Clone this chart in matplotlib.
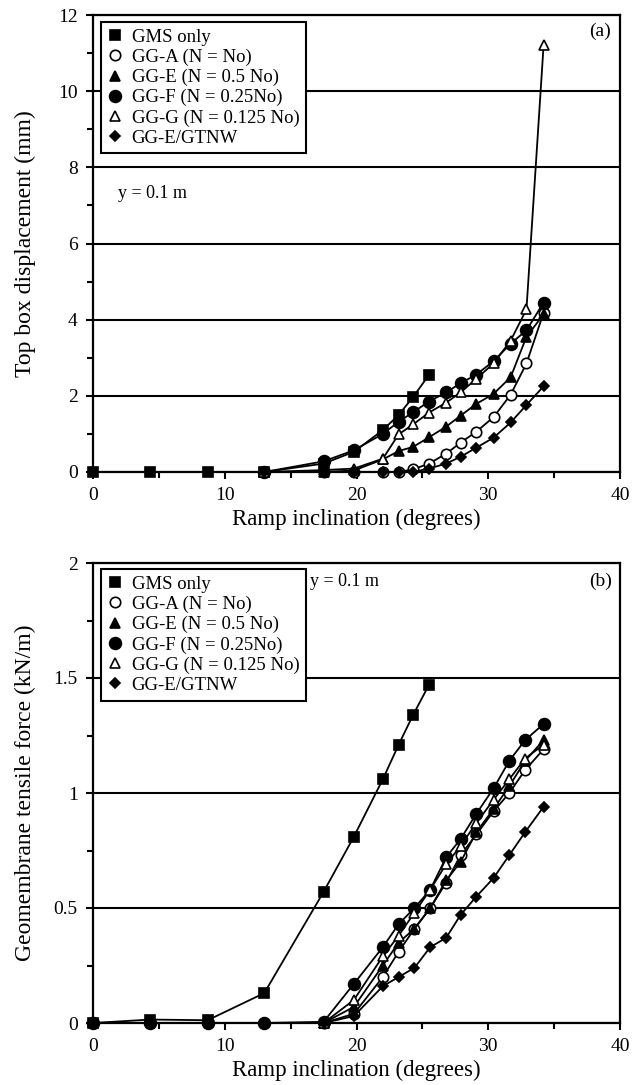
import matplotlib.pyplot as plt
from matplotlib.lines import Line2D
import numpy as np

plt.rcParams['font.family'] = ['Liberation Serif', 'DejaVu Serif']

# Panel (a): top box displacement (mm)
x_gms = [0, 4.35, 8.7, 13.0, 17.5, 19.8, 22.0, 23.2, 24.3, 25.5]
a_gms = [0, 0, 0, 0, 0.22, 0.53, 1.10, 1.50, 1.97, 2.55]

x_gg = [13.0, 17.5, 19.8, 22.0, 23.2, 24.3, 25.5, 26.8, 27.9, 29.1, 30.4, 31.7, 32.9, 34.2]
a_gga = [0, 0, 0, 0, 0, 0.07, 0.22, 0.48, 0.77, 1.06, 1.44, 2.03, 2.85, 4.18]
a_gge = [0, 0, 0.04, 0.33, 0.55, 0.66, 0.91, 1.19, 1.48, 1.79, 2.05, 2.49, 3.55, 4.14]
a_ggf = [0, 0.28, 0.57, 1.00, 1.32, 1.57, 1.85, 2.09, 2.33, 2.56, 2.91, 3.37, 3.72, 4.45]
a_ggg = [0, 0.05, 0.09, 0.35, 0.99, 1.25, 1.56, 1.82, 2.09, 2.45, 2.85, 3.45, 4.27, 11.2]
a_gtnw = [0, 0, 0, 0, 0, 0, 0.09, 0.22, 0.40, 0.64, 0.90, 1.30, 1.76, 2.25]

# Panel (b): geomembrane tensile force (kN/m)
b_gms = [0, 0.015, 0.012, 0.13, 0.57, 0.81, 1.06, 1.21, 1.34, 1.47]

x_ggf_b = [0, 4.35, 8.7, 13.0, 17.5, 19.8, 22.0, 23.2, 24.4, 25.6, 26.8, 27.9, 29.1, 30.4, 31.6, 32.8, 34.2]
b_ggf = [0, 0, 0, 0, 0.005, 0.17, 0.33, 0.43, 0.50, 0.58, 0.72, 0.80, 0.91, 1.02, 1.14, 1.23, 1.30]

x_b = [17.5, 19.8, 22.0, 23.2, 24.4, 25.6, 26.8, 27.9, 29.1, 30.4, 31.6, 32.8, 34.2]
b_gga = [0, 0.04, 0.20, 0.31, 0.41, 0.50, 0.61, 0.73, 0.82, 0.92, 1.00, 1.10, 1.19]
b_gge = [0, 0.07, 0.25, 0.35, 0.41, 0.50, 0.62, 0.70, 0.83, 0.93, 1.03, 1.14, 1.23]
b_ggg = [0, 0.10, 0.29, 0.38, 0.48, 0.58, 0.69, 0.77, 0.87, 0.97, 1.06, 1.15, 1.21]
b_gtnw = [0, 0.03, 0.16, 0.20, 0.24, 0.33, 0.37, 0.47, 0.55, 0.63, 0.73, 0.83, 0.94]

labels = ["GMS only", "GG-A (N = No)", "GG-E (N = 0.5 No)", "GG-F (N = 0.25No)",
          "GG-G (N = 0.125 No)", "GG-E/GTNW"]
styles = [
    dict(marker='s', mfc='black', ms=7.5),
    dict(marker='o', mfc='white', ms=7.5),
    dict(marker='^', mfc='black', ms=7.5),
    dict(marker='o', mfc='black', ms=8.5),
    dict(marker='^', mfc='white', ms=7.5),
    dict(marker='D', mfc='black', ms=5.5),
]

fig = plt.figure(figsize=(6.37, 10.85), dpi=100)
ax1 = fig.add_axes([93 / 637, (1085 - 472) / 1085, 527 / 637, 457 / 1085])
ax2 = fig.add_axes([93 / 637, (1085 - 1023) / 1085, 527 / 637, 460 / 1085])


def draw(ax, series):
    for (xs, ys), st, lab in zip(series, styles, labels):
        ax.plot(xs, ys, color='black', lw=1.3, mec='black', mew=1.2,
                label=lab, clip_on=False, **st)


draw(ax1, [(x_gms, a_gms), (x_gg, a_gga), (x_gg, a_gge), (x_gg, a_ggf),
           (x_gg, a_ggg), (x_gg, a_gtnw)])
draw(ax2, [(x_gms, b_gms), (x_b, b_gga), (x_b, b_gge), (x_ggf_b, b_ggf),
           (x_b, b_ggg), (x_b, b_gtnw)])

handles = [Line2D([], [], ls='none', color='black', mec='black', mew=1.2, **st)
           for st in styles]

for ax, ymax, ymaj, ymin, anchor in [(ax1, 12, 2, 1, 0.985), (ax2, 2, 0.5, 0.25, 0.987)]:
    ax.set_xlim(0, 40)
    ax.set_ylim(0, ymax)
    ax.set_xticks(np.arange(0, 41, 10))
    ax.set_xticks(np.arange(0, 41, 5), minor=True)
    ax.set_yticks(np.arange(0, ymax + 0.001, ymaj))
    ax.set_yticks(np.arange(0, ymax + 0.001, ymin), minor=True)
    ax.yaxis.grid(True, which='major', color='black', lw=1.5)
    ax.set_axisbelow(True)
    for sp in ax.spines.values():
        sp.set_linewidth(1.6)
    ax.tick_params(which='major', direction='out', length=5, width=1.5, labelsize=14, pad=6)
    ax.tick_params(which='minor', direction='out', length=4, width=1.5)
    ax.set_xlabel("Ramp inclination (degrees)", fontsize=16.5, labelpad=3)
    ax.yaxis.set_label_coords(-0.129, 0.5)
    leg = ax.legend(handles, labels, loc='upper left', bbox_to_anchor=(0.0146, anchor),
                    borderaxespad=0, fontsize=13.5, handlelength=0.8, handletextpad=0.5,
                    labelspacing=0.16, borderpad=0.35, fancybox=False, framealpha=1)
    leg.get_frame().set_edgecolor('black')
    leg.get_frame().set_linewidth(1.5)

ax1.set_yticklabels(['0', '2', '4', '6', '8', '10', '12'])
ax2.set_yticklabels(['0', '0.5', '1', '1.5', '2'])
ax1.set_ylabel("Top box displacement (mm)", fontsize=17, va='center')
ax2.set_ylabel("Geomembrane tensile force (kN/m)", fontsize=17, va='center')

ax1.text(1.9, 7.3, "y = 0.1 m", fontsize=13, va='center', ha='left')
ax2.text(19.1, 1.92, "y = 0.1 m", fontsize=13, va='center', ha='center')
ax1.text(38.5, 11.58, "(a)", fontsize=14, va='center', ha='center')
ax2.text(38.5, 1.92, "(b)", fontsize=14, va='center', ha='center')

fig.savefig("out.png", dpi=100)
